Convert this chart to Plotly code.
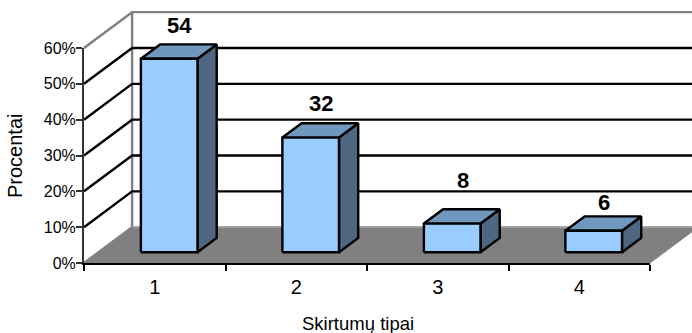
import plotly.graph_objects as go

# Chart data
categories = [1, 2, 3, 4]
values = [54, 32, 8, 6]
percent_ticks = [0, 10, 20, 30, 40, 50, 60]
percent_labels = ["0%", "10%", "20%", "30%", "40%", "50%", "60%"]
category_edges = [0.5, 1.5, 2.5, 3.5, 4.5]
label_lift = [-26, -27, -36, -21]  # manual nudges of the value labels, px

# Canvas and front-plane layout, px
W, H = 692, 333
LEFT, RIGHT, TOP, BOTTOM = 84, 650, 48, 263

# Oblique projection: one unit of depth moves a point right and up
DEPTH_X = 0.34   # categories
DEPTH_Y = 10.0   # percent
BAR_HALF = 0.2
BAR_DEPTH = (0.3, 0.7)

BLACK = "#000000"
GREY = "#808080"
FRONT = "#99CCFF"
TOP_FACE = "#7098BF"
SIDE = "#4F6680"
STROKE = 2.4

# Full-canvas axes share the scale of the front axes
cat_per_px = 4.0 / (RIGHT - LEFT)
pct_per_px = 60.0 / (BOTTOM - TOP)
canvas_x = [0.5 - LEFT * cat_per_px, 0.5 + (W - LEFT) * cat_per_px]
canvas_y = [-(H - BOTTOM) * pct_per_px, BOTTOM * pct_per_px]


def project(cat, pct, depth):
    return cat + depth * DEPTH_X, pct + depth * DEPTH_Y


def path(points, color=None, line=BLACK, width=STROKE):
    xs, ys = zip(*[project(*p) for p in points])
    return go.Scatter(
        x=xs, y=ys, mode="lines",
        line=dict(color=line, width=width),
        fill="toself" if color else None,
        fillcolor=color,
        hoverinfo="skip", showlegend=False, xaxis="x", yaxis="y",
    )


fig = go.Figure()

x0, x1 = category_edges[0], category_edges[-1]

# Floor
fig.add_trace(path([(x0, 0, 0), (x1, 0, 0), (x1, 0, 1), (x0, 0, 1), (x0, 0, 0)],
                   color=GREY, line=GREY, width=1))

# Walls
fig.add_trace(path([(x0, 0, 0), (x0, 0, 1), (x0, 60, 1), (x1, 60, 1)], line=GREY))
fig.add_trace(path([(x0, 60, 0), (x0, 60, 1)], line=GREY))
fig.add_trace(path([(x0, 0, 1), (x1, 0, 1)], line="#999999", width=2))

# Gridlines along the side wall and the back wall
for t in percent_ticks[1:-1]:
    fig.add_trace(path([(x0, t, 0), (x0, t, 1), (x1, t, 1)]))

# Bars: front, side and top faces
d0, d1 = BAR_DEPTH
for c, v in zip(categories, values):
    l, r = c - BAR_HALF, c + BAR_HALF
    fig.add_trace(path([(r, 0, d0), (r, 0, d1), (r, v, d1), (r, v, d0), (r, 0, d0)], color=SIDE))
    fig.add_trace(path([(l, v, d0), (r, v, d0), (r, v, d1), (l, v, d1), (l, v, d0)], color=TOP_FACE))
    fig.add_trace(path([(l, 0, d0), (r, 0, d0), (r, v, d0), (l, v, d0), (l, 0, d0)], color=FRONT))

# Values on the front axes keep the tick scales bound to the data
fig.add_trace(go.Scatter(x=categories, y=values, mode="markers", marker=dict(opacity=0),
                         hoverinfo="skip", showlegend=False, xaxis="x2", yaxis="y2"))

annotations = []
for c, v, lift in zip(categories, values, label_lift):
    ax, ay = project(c, v, 0.5)
    annotations.append(dict(
        x=ax, y=ay, xref="x", yref="y", text=f"<b>{v}</b>", showarrow=False,
        xanchor="center", yanchor="middle", xshift=1,
        yshift=-lift, font=dict(size=22, color=BLACK),
    ))

annotations.append(dict(
    x=358 / W, y=1 - 323 / H, xref="paper", yref="paper", text="Skirtumų tipai",
    xanchor="center", yanchor="middle",
    showarrow=False, font=dict(size=18.5, color=BLACK),
))
annotations.append(dict(
    x=15 / W, y=1 - 156 / H, xref="paper", yref="paper", text="Procentai",
    xanchor="center", yanchor="middle",
    textangle=-90, showarrow=False, font=dict(size=20, color=BLACK),
))

fig.update_layout(
    width=W, height=H,
    margin=dict(l=0, r=0, t=0, b=0, autoexpand=False),
    paper_bgcolor="white", plot_bgcolor="rgba(0,0,0,0)",
    font=dict(family="Liberation Sans, Arial, sans-serif"),
    showlegend=False,
    annotations=annotations,
    xaxis=dict(domain=[0, 1], range=canvas_x, visible=False, fixedrange=True),
    yaxis=dict(domain=[0, 1], range=canvas_y, visible=False, fixedrange=True),
    xaxis2=dict(
        domain=[LEFT / W, RIGHT / W], anchor="y2", range=[x0, x1],
        tickmode="array", tickvals=categories, ticktext=[str(c) for c in categories],
        ticks="", ticklabelstandoff=5,
        tickfont=dict(family="Liberation Sans, Arial, sans-serif", size=20, color=BLACK),
        showgrid=False, zeroline=False, showline=True, linecolor=BLACK, linewidth=STROKE,
        minor=dict(tickmode="array", tickvals=category_edges, ticks="outside",
                   ticklen=6, tickwidth=2, tickcolor=BLACK, showgrid=False),
        fixedrange=True,
    ),
    yaxis2=dict(
        domain=[1 - BOTTOM / H, 1 - TOP / H], anchor="x2", range=[0, 60],
        tickmode="array", tickvals=percent_ticks, ticktext=percent_labels,
        ticks="outside", ticklen=6, tickwidth=2, tickcolor="#333333",
        ticklabelstandoff=-3,
        tickfont=dict(family="Liberation Sans, Arial, sans-serif", size=16, color=BLACK),
        showgrid=False, zeroline=False,
        showline=True, linecolor="#333333", linewidth=2, fixedrange=True,
    ),
)

fig.write_html("out.html", config=dict(displayModeBar=False))
